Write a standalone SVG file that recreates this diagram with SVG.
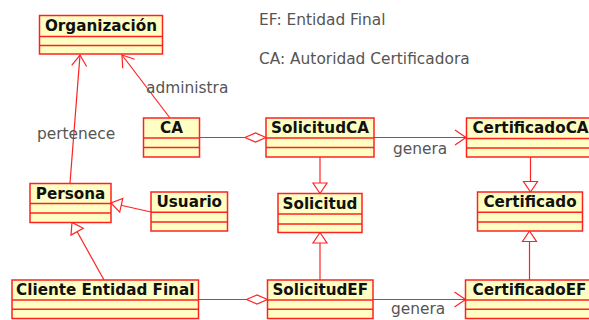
<svg xmlns="http://www.w3.org/2000/svg" width="589" height="320" viewBox="0 0 589 320">
<style>
.box{fill:#ffffc4;stroke:#f22;stroke-width:1.5}
.div{stroke:#f22;stroke-width:1.5}
.name{font-family:"DejaVu Sans",sans-serif;font-size:15.2px;font-weight:bold;fill:#111;text-anchor:middle}
.lbl{font-family:"DejaVu Sans",sans-serif;font-size:15.4px;fill:#555}
.con{stroke:#f22;stroke-width:1.2;fill:none}
</style>
<defs>
<marker id="arrow" markerUnits="userSpaceOnUse" orient="auto" refX="0" refY="0" overflow="visible" markerWidth="1" markerHeight="1">
<path d="M-11,-7.5 L0,0 L-11,7.5" fill="none" stroke="#f22" stroke-width="1.2"/>
</marker>
<marker id="tri" markerUnits="userSpaceOnUse" orient="auto" refX="0" refY="0" overflow="visible" markerWidth="1" markerHeight="1">
<path d="M0,0 L-10.5,-7 L-10.5,7 Z" fill="#fff" stroke="#f22" stroke-width="1.2"/>
</marker>
<marker id="dia" markerUnits="userSpaceOnUse" orient="auto" refX="0" refY="0" overflow="visible" markerWidth="1" markerHeight="1">
<path d="M0,0 L-10.5,-4.5 L-21,0 L-10.5,4.5 Z" fill="#fff" stroke="#f22" stroke-width="1.2"/>
</marker>
</defs>
<text class="lbl" x="259" y="25">EF: Entidad Final</text>
<text class="lbl" x="259" y="64">CA: Autoridad Certificadora</text>
<g id="connectors">
<line class="con" x1="170" y1="118" x2="122" y2="55" marker-end="url(#arrow)"/>
<text class="lbl" x="146" y="93">administra</text>
<line class="con" x1="70" y1="183" x2="80" y2="55" marker-end="url(#arrow)"/>
<text class="lbl" x="37" y="139">pertenece</text>
<line class="con" x1="199" y1="137.5" x2="266" y2="137.5" marker-end="url(#dia)"/>
<line class="con" x1="374" y1="137.5" x2="466" y2="137.5" marker-end="url(#arrow)"/>
<text class="lbl" x="393" y="154">genera</text>
<line class="con" x1="320" y1="157" x2="320" y2="193.5" marker-end="url(#tri)"/>
<line class="con" x1="320" y1="280" x2="320" y2="232.5" marker-end="url(#tri)"/>
<line class="con" x1="530.5" y1="157" x2="530.5" y2="192" marker-end="url(#tri)"/>
<line class="con" x1="529.5" y1="280" x2="529.5" y2="231" marker-end="url(#tri)"/>
<line class="con" x1="151" y1="212" x2="111" y2="203" marker-end="url(#tri)"/>
<line class="con" x1="104" y1="280" x2="72" y2="222.5" marker-end="url(#tri)"/>
<line class="con" x1="198" y1="299.5" x2="267.5" y2="299.5" marker-end="url(#dia)"/>
<line class="con" x1="373" y1="299.5" x2="465.5" y2="299.5" marker-end="url(#arrow)"/>
<text class="lbl" x="391" y="314">genera</text>
</g>
<g id="organizacion">
<rect class="box" x="39.5" y="15.5" width="123" height="38.5"/>
<line class="div" x1="39.5" y1="36.5" x2="162.5" y2="36.5"/>
<line class="div" x1="39.5" y1="45.5" x2="162.5" y2="45.5"/>
<text class="name" x="101" y="30.5">Organización</text>
</g>
<g id="ca">
<rect class="box" x="143.5" y="118" width="56" height="39"/>
<line class="div" x1="143.5" y1="138" x2="199.5" y2="138"/>
<line class="div" x1="143.5" y1="147.5" x2="199.5" y2="147.5"/>
<text class="name" x="171.5" y="133">CA</text>
</g>
<g id="solicitudca">
<rect class="box" x="266" y="118" width="108" height="39"/>
<line class="div" x1="266" y1="138" x2="374" y2="138"/>
<line class="div" x1="266" y1="147.5" x2="374" y2="147.5"/>
<text class="name" x="320" y="133">SolicitudCA</text>
</g>
<g id="certificadoca">
<rect class="box" x="466.5" y="118" width="128" height="39"/>
<line class="div" x1="466.5" y1="138.5" x2="594.5" y2="138.5"/>
<line class="div" x1="466.5" y1="148" x2="594.5" y2="148"/>
<text class="name" x="530.5" y="133">CertificadoCA</text>
</g>
<g id="persona">
<rect class="box" x="30" y="183.5" width="81" height="39"/>
<line class="div" x1="30" y1="203.5" x2="111" y2="203.5"/>
<line class="div" x1="30" y1="213" x2="111" y2="213"/>
<text class="name" x="70.5" y="198.5">Persona</text>
</g>
<g id="usuario">
<rect class="box" x="151" y="192" width="76.5" height="39"/>
<line class="div" x1="151" y1="212.3" x2="227.5" y2="212.3"/>
<line class="div" x1="151" y1="222" x2="227.5" y2="222"/>
<text class="name" x="189.25" y="207">Usuario</text>
</g>
<g id="solicitud">
<rect class="box" x="278" y="193.5" width="84" height="39"/>
<line class="div" x1="278" y1="214" x2="362" y2="214"/>
<line class="div" x1="278" y1="224" x2="362" y2="224"/>
<text class="name" x="320" y="208.5">Solicitud</text>
</g>
<g id="certificado">
<rect class="box" x="477.5" y="192" width="105" height="39"/>
<line class="div" x1="477.5" y1="212.3" x2="582.5" y2="212.3"/>
<line class="div" x1="477.5" y1="222" x2="582.5" y2="222"/>
<text class="name" x="530" y="207">Certificado</text>
</g>
<g id="clienteentidadfinal">
<rect class="box" x="12" y="280" width="186.5" height="38.5"/>
<line class="div" x1="12" y1="300" x2="198.5" y2="300"/>
<line class="div" x1="12" y1="309.3" x2="198.5" y2="309.3"/>
<text class="name" x="105.25" y="295">Cliente Entidad Final</text>
</g>
<g id="solicitudef">
<rect class="box" x="267.5" y="280" width="105.5" height="38.5"/>
<line class="div" x1="267.5" y1="300" x2="373" y2="300"/>
<line class="div" x1="267.5" y1="309.3" x2="373" y2="309.3"/>
<text class="name" x="320.25" y="295">SolicitudEF</text>
</g>
<g id="certificadoef">
<rect class="box" x="465.5" y="280" width="128" height="38.5"/>
<line class="div" x1="465.5" y1="300" x2="593.5" y2="300"/>
<line class="div" x1="465.5" y1="309.3" x2="593.5" y2="309.3"/>
<text class="name" x="529.5" y="295">CertificadoEF</text>
</g>
</svg>
